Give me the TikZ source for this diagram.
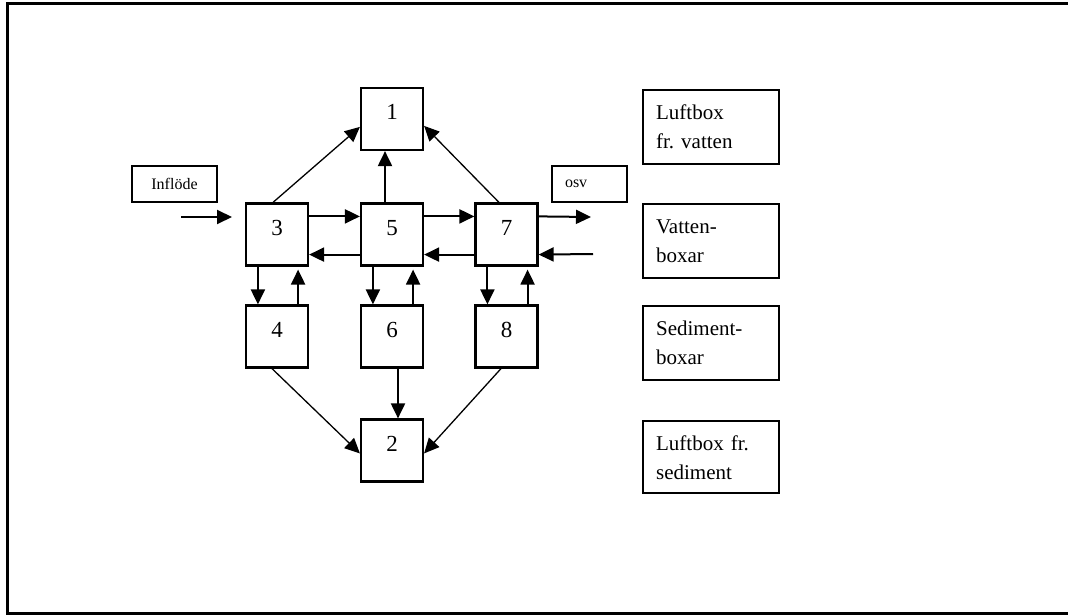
\documentclass[tikz,border=0pt]{standalone}
\usepackage{fontspec}
\setmainfont{Liberation Serif}
\usetikzlibrary{arrows.meta}
\frenchspacing
\begin{document}
\begin{tikzpicture}[x=1pt,y=-1pt,
  numbox/.style={draw, line width=2.2pt, inner sep=0pt, minimum width=62pt,
    text height=32pt, text depth=30pt, font=\fontsize{23}{26}\selectfont},
  legbox/.style={draw, line width=2.2pt, anchor=north west, inner xsep=13pt,
    inner ysep=0pt, text width=110pt, align=left, text height=29pt,
    text depth=45pt, font=\fontsize{21}{29}\selectfont},
  smallbox/.style={draw, line width=2.2pt, minimum height=36pt, inner ysep=0pt,
    font=\fontsize{16}{18}\selectfont},
  flow/.style={line width=2pt, -{Triangle[length=15pt,width=14pt]}},
  diag/.style={line width=1.3pt, -{Triangle[length=15pt,width=14pt]}},
  frame/.style={line width=3pt}
]
\useasboundingbox (0,0) rectangle (1068,615);
\draw[frame] (1068,4) -- (7,4) -- (7,613) -- (1068,613);

% numbered boxes
\node[numbox] (b1) at (392,119) {1};
\node[numbox] (b3) at (277,234.5) {3};
\node[numbox] (b5) at (392,234.5) {5};
\node[numbox] (b7) at (506.5,234.5) {7};
\node[numbox] (b4) at (277,336.5) {4};
\node[numbox] (b6) at (392,336.5) {6};
\node[numbox] (b8) at (506.5,336.5) {8};
\node[numbox] (b2) at (392,450.5) {2};

% small label boxes
\node[smallbox, minimum width=85pt] (inf) at (174.5,184) {Inflöde};
\node[smallbox, text width=49pt, inner xsep=13pt, align=left] (osv) at (589.5,184) {osv};

% legend boxes
\node[legbox] (l1) at (642,89) {Luftbox\\fr. vatten};
\node[legbox] (l2) at (642,203) {Vatten-\\boxar};
\node[legbox] (l3) at (642,305) {Sediment-\\boxar};
\node[legbox, text depth=43pt] (l4) at (642,420) {Luftbox fr.\\sediment};

% free ends
\coordinate (inA) at (181,217);
\coordinate (inB) at (232,217);
\coordinate (outA) at (591,217);
\coordinate (inR) at (593,254);

% horizontal flows
\draw[flow] (inA) -- (inB);
\draw[flow] ([yshift=-14pt]b3.north east) -- ([yshift=-14pt]b5.north west);
\draw[flow] ([yshift=-14pt]b5.north east) -- ([yshift=-14pt]b7.north west);
\draw[flow] ([yshift=-14pt]b7.north east) -- (outA);
\draw[flow] (inR) -- ([yshift=12pt]b7.south east);
\draw[flow] ([yshift=12pt]b7.south west) -- ([yshift=12pt]b5.south east);
\draw[flow] ([yshift=12pt]b5.south west) -- ([yshift=12pt]b3.south east);

% vertical flows between water and sediment
\draw[flow] ([xshift=13pt]b3.south west) -- ([xshift=13pt]b4.north west);
\draw[flow, shorten >=3pt] ([xshift=-11pt]b4.north east) -- ([xshift=-11pt]b3.south east);
\draw[flow] ([xshift=13pt]b5.south west) -- ([xshift=13pt]b6.north west);
\draw[flow, shorten >=3pt] ([xshift=-11pt]b6.north east) -- ([xshift=-11pt]b5.south east);
\draw[flow] ([xshift=13pt]b7.south west) -- ([xshift=13pt]b8.north west);
\draw[flow, shorten >=3pt] ([xshift=-11pt]b8.north east) -- ([xshift=-11pt]b7.south east);

% to air boxes
\draw[flow] ([xshift=-7pt]b5.north) -- ([xshift=-7pt]b1.south);
\draw[flow] ([xshift=6pt]b6.south) -- ([xshift=6pt]b2.north);
\draw[diag] ([xshift=-4pt]b3.north) -- ([yshift=-40pt]b1.north west);
\draw[diag] ([xshift=-7.5pt]b7.north) -- ([yshift=-39pt]b1.north east);
\draw[diag] ([xshift=-5pt]b4.south) -- ([yshift=-35pt]b2.north west);
\draw[diag] ([xshift=-5.5pt]b8.south) -- ([yshift=-35pt]b2.north east);
\end{tikzpicture}
\end{document}
